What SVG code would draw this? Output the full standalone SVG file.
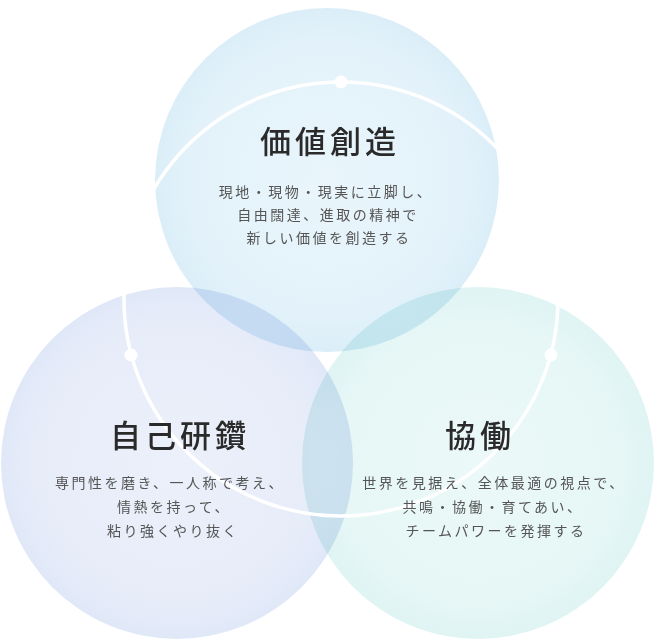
<svg xmlns="http://www.w3.org/2000/svg" width="654" height="642" viewBox="0 0 654 642">
<defs>
<radialGradient id="gTop" cx="0.5" cy="0.5" r="0.5">
<stop offset="0" stop-color="#e9f5fb"/><stop offset="0.8" stop-color="#e3f2fa"/><stop offset="1" stop-color="#dbeef8"/>
</radialGradient>
<radialGradient id="gLeft" cx="0.5" cy="0.5" r="0.5">
<stop offset="0" stop-color="#ebf0fa"/><stop offset="0.8" stop-color="#e7ecf9"/><stop offset="1" stop-color="#e0e8f8"/>
</radialGradient>
<radialGradient id="gRight" cx="0.5" cy="0.5" r="0.5">
<stop offset="0" stop-color="#ebf9f8"/><stop offset="0.8" stop-color="#e6f7f6"/><stop offset="1" stop-color="#dff4f3"/>
</radialGradient>
<style>
.circ{mix-blend-mode:multiply}
.title{font-family:"Noto Sans CJK JP","Noto Sans CJK SC",sans-serif;font-size:31px;font-weight:500;fill:#2a2a2a;letter-spacing:4px;text-anchor:middle}
.body{font-family:"Noto Sans CJK JP","Noto Sans CJK SC",sans-serif;font-size:14px;fill:#555;letter-spacing:2.5px;text-anchor:middle}
.ring{fill:none;stroke:#fff;stroke-width:3.5}
.dot{fill:#fff}
</style>
</defs>
<rect width="654" height="642" fill="#fff"/>
<g id="circles">
<circle class="circ" cx="327" cy="180" r="172" fill="url(#gTop)"/>
<circle class="circ" cx="177" cy="463" r="176" fill="url(#gLeft)"/>
<circle class="circ" cx="478" cy="463" r="176" fill="url(#gRight)"/>
</g>
<g id="connectors">
<circle class="ring" cx="341" cy="299" r="217"/>
<circle class="dot" cx="341" cy="82" r="6.5"/>
<circle class="dot" cx="131" cy="355" r="6.5"/>
<circle class="dot" cx="551" cy="355" r="6.5"/>
</g>
<g id="node-kachi">
<text class="title" x="330" y="153">価値創造</text>
<text class="body" x="326" y="197">現地・現物・現実に立脚し、</text>
<text class="body" x="328" y="220">自由闊達、進取の精神で</text>
<text class="body" x="329" y="243">新しい価値を創造する</text>
</g>
<g id="node-jiko">
<text class="title" x="180" y="447">自己研鑽</text>
<text class="body" x="170" y="488">専門性を磨き、一人称で考え、</text>
<text class="body" x="174" y="512">情熱を持って、</text>
<text class="body" x="173" y="536">粘り強くやり抜く</text>
</g>
<g id="node-kyodo">
<text class="title" x="480" y="447">協働</text>
<text class="body" x="494" y="488">世界を見据え、全体最適の視点で、</text>
<text class="body" x="493" y="512">共鳴・協働・育てあい、</text>
<text class="body" x="496" y="536">チームパワーを発揮する</text>
</g>
</svg>
